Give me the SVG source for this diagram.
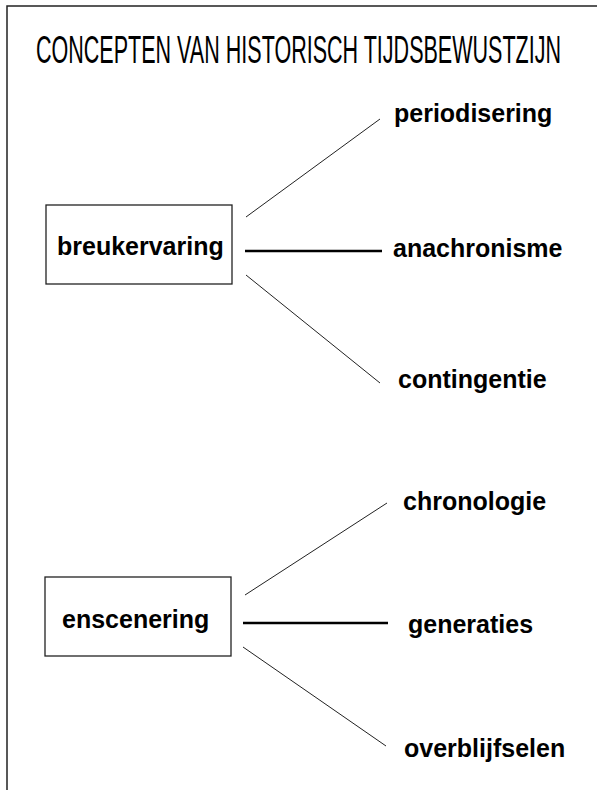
<svg xmlns="http://www.w3.org/2000/svg" width="597" height="790" viewBox="0 0 597 790">
<style>
.frame{fill:none;stroke:#222;stroke-width:1.5}
.box rect{fill:#fff;stroke:#222;stroke-width:1.3}
text{font-family:"Liberation Sans",Arial,sans-serif;fill:#000}
.lbl{font-size:25px;font-weight:bold}
.title{font-size:38px}
.thin{stroke:#222;stroke-width:1;fill:none}
.thick{stroke:#000;stroke-width:2.6;fill:none}
</style>
<rect width="597" height="790" fill="#fff"/>
<path class="frame" d="M7 790 V6 H597"/>
<text class="title" x="36" y="63" textLength="525" lengthAdjust="spacingAndGlyphs">CONCEPTEN VAN HISTORISCH TIJDSBEWUSTZIJN</text>
<g id="connectors">
<line class="thin" x1="246" y1="217" x2="380" y2="119"/>
<line class="thick" x1="245" y1="251" x2="382" y2="251"/>
<line class="thin" x1="246" y1="275" x2="380" y2="383"/>
<line class="thin" x1="245" y1="595" x2="387" y2="503"/>
<line class="thick" x1="243" y1="623" x2="388" y2="623"/>
<line class="thin" x1="243" y1="647" x2="386" y2="746"/>
</g>
<g id="breukervaring" class="box">
<rect x="46" y="205" width="186" height="79"/>
<text class="lbl" x="57" y="255">breukervaring</text>
</g>
<g id="enscenering" class="box">
<rect x="45" y="577" width="186" height="79"/>
<text class="lbl" x="62" y="628">enscenering</text>
</g>
<g id="periodisering"><text class="lbl" x="394" y="122">periodisering</text></g>
<g id="anachronisme"><text class="lbl" x="393" y="257">anachronisme</text></g>
<g id="contingentie"><text class="lbl" x="398" y="388">contingentie</text></g>
<g id="chronologie"><text class="lbl" x="403" y="510">chronologie</text></g>
<g id="generaties"><text class="lbl" x="408" y="633">generaties</text></g>
<g id="overblijfselen"><text class="lbl" x="404" y="757">overblijfselen</text></g>
</svg>
